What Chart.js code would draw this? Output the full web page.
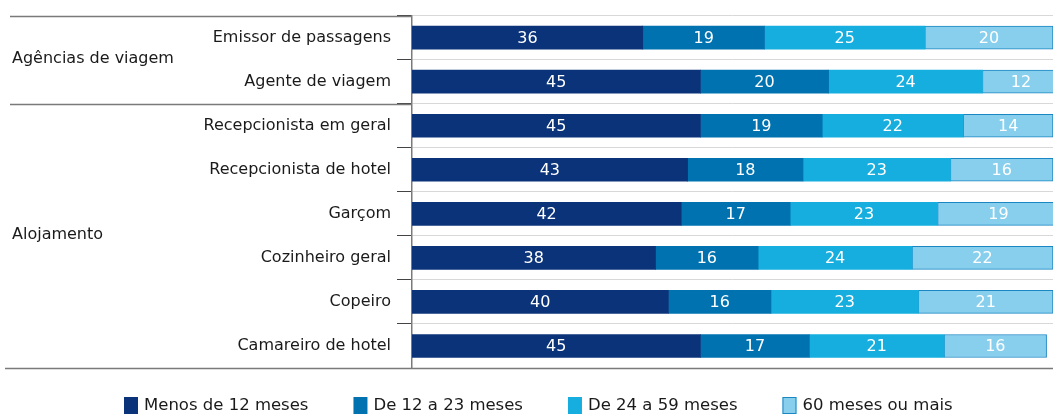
<!DOCTYPE html>
<html>
<head>
<meta charset="utf-8">
<script src="https://cdn.jsdelivr.net/npm/chart.js@4.4.1/dist/chart.umd.min.js"></script>
<style>
  html, body { margin: 0; padding: 0; background: #fff; }
  #wrap { position: relative; width: 1053px; height: 415px; }
</style>
</head>
<body>
<div id="wrap"><canvas id="c" width="1053" height="415"></canvas></div>
<script>
const categories = [
  "Emissor de passagens",
  "Agente de viagem",
  "Recepcionista em geral",
  "Recepcionista de hotel",
  "Garçom",
  "Cozinheiro geral",
  "Copeiro",
  "Camareiro de hotel"
];
const groups = [
  { label: "Agências de viagem", from: 0, to: 1 },
  { label: "Alojamento", from: 2, to: 7 }
];
const seriesNames = ["Menos de 12 meses", "De 12 a 23 meses", "De 24 a 59 meses", "60 meses ou mais"];
const menos12 = [36, 45, 45, 43, 42, 38, 40, 45];
const de12a23 = [19, 20, 19, 18, 17, 16, 16, 17];
const de24a59 = [25, 24, 22, 23, 23, 24, 23, 21];
const mais60  = [20, 12, 14, 16, 19, 22, 21, 16];

const FONT = "'DejaVu Sans', 'Noto Sans', sans-serif";
const colors = ["#0b3379", "#0072b0", "#15aede", "#88cfee"];
const borders = ["#0b3379", "#0072b0", "#15aede", "#1b87c2"];
const seriesData = [menos12, de12a23, de24a59, mais60];

const datasets = seriesNames.map((name, i) => ({
  label: name,
  data: seriesData[i],
  backgroundColor: colors[i],
  borderColor: borders[i],
  borderWidth: i === 3 ? 1 : 0,
  borderSkipped: false,
  barThickness: 23
}));

const decorPlugin = {
  id: 'decor',
  afterDraw(chart) {
    const ctx = chart.ctx;
    const y = chart.scales.y;
    const area = chart.chartArea;
    const rowH = (area.bottom - area.top) / categories.length;
    ctx.save();
    // group separators
    ctx.strokeStyle = '#7a7a7a';
    ctx.lineWidth = 1.5;
    const bounds = [0, 2];
    bounds.forEach(b => {
      const yy = Math.round(area.top + rowH * b) + 0.5;
      ctx.beginPath();
      ctx.moveTo(10, yy);
      ctx.lineTo(area.left, yy);
      ctx.stroke();
    });
    // bottom line
    ctx.beginPath();
    ctx.moveTo(5, Math.round(area.bottom) + 0.5);
    ctx.lineTo(chart.width, Math.round(area.bottom) + 0.5);
    ctx.stroke();
    // group labels
    ctx.fillStyle = '#1a1a1a';
    ctx.font = '16px ' + FONT;
    ctx.textAlign = 'left';
    ctx.textBaseline = 'middle';
    groups.forEach(g => {
      const yc = (y.getPixelForValue(g.from) + y.getPixelForValue(g.to)) / 2;
      ctx.fillText(g.label, 12, yc - 1);
    });
    // value labels
    ctx.font = '16px ' + FONT;
    ctx.textAlign = 'center';
    ctx.fillStyle = '#ffffff';
    chart.data.datasets.forEach((ds, di) => {
      const meta = chart.getDatasetMeta(di);
      meta.data.forEach((bar, i) => {
        const xc = (bar.x + bar.base) / 2;
        ctx.fillText(String(ds.data[i]), xc, bar.y + 1);
      });
    });
    // legend
    ctx.font = '16.5px ' + FONT;
    ctx.textAlign = 'left';
    let x = 124;
    const ly = 397;
    chart.data.datasets.forEach((ds, di) => {
      ctx.fillStyle = ds.backgroundColor;
      ctx.fillRect(x, ly, 14, 17);
      if (di === 3) {
        ctx.strokeStyle = ds.borderColor;
        ctx.lineWidth = 1;
        ctx.strokeRect(x + 0.5, ly + 0.5, 13, 16);
      }
      ctx.fillStyle = '#1a1a1a';
      ctx.fillText(ds.label, x + 20, ly + 9);
      x += 20 + ctx.measureText(ds.label).width + 45;
    });
    ctx.restore();
  }
};

new Chart(document.getElementById('c'), {
  type: 'bar',
  data: { labels: categories, datasets },
  options: {
    indexAxis: 'y',
    responsive: false,
    animation: false,
    devicePixelRatio: 1,
    layout: { padding: { top: 13, bottom: 47, left: 0, right: 0 } },
    plugins: { legend: { display: false }, tooltip: { enabled: false } },
    scales: {
      x: { stacked: true, display: false, min: 0, max: 100 },
      y: {
        stacked: true,
        afterFit(scale) { scale.width = 412; },
        border: { display: true, color: '#7a7a7a', width: 1.5 },
        grid: { offset: true, color: '#d8d8d8', lineWidth: 1, tickLength: 15, tickColor: '#444', tickWidth: 1 },
        ticks: { color: '#1a1a1a', font: { family: FONT, size: 16 }, padding: 6 }
      }
    }
  },
  plugins: [decorPlugin]
});
</script>
</body>
</html>
